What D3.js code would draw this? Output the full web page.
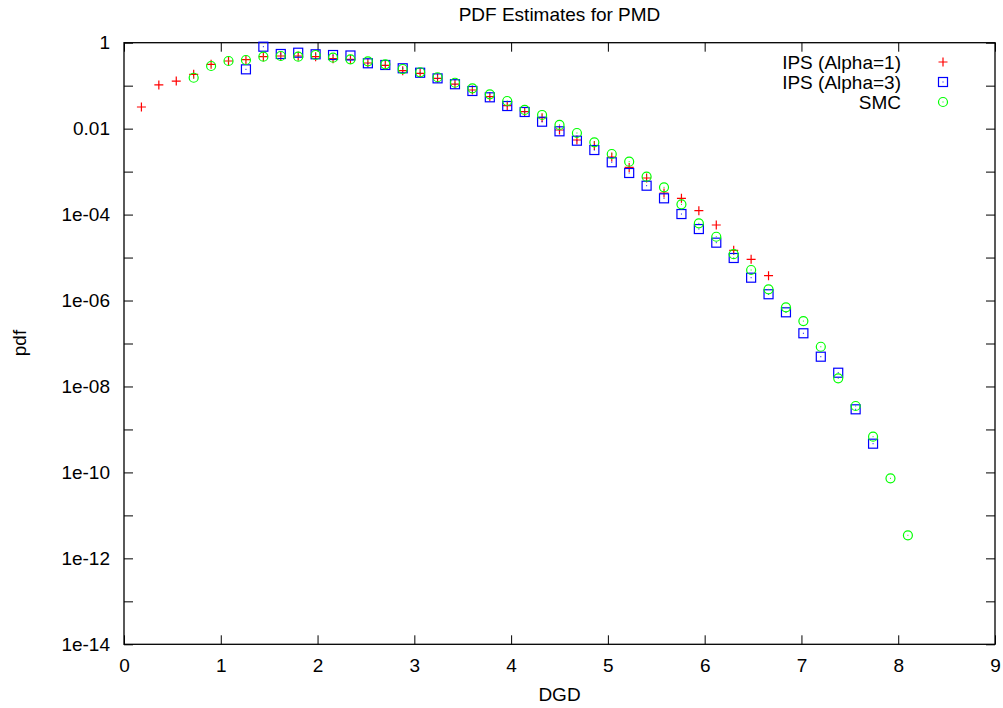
<!DOCTYPE html>
<html>
<head>
<meta charset="utf-8">
<script src="https://cdn.jsdelivr.net/npm/d3@7"></script>
<style>
  body { margin: 0; background: #fff; }
  svg text { font-family: "Liberation Sans", Arial, Helvetica, sans-serif; fill: #000; }
</style>
</head>
<body>
<svg id="chart" width="1003" height="708"></svg>
<script>
// DGD bin centres
var dgd = [0.18, 0.36, 0.54, 0.72, 0.90, 1.08, 1.26, 1.44, 1.62, 1.80, 1.98, 2.16, 2.34, 2.52, 2.70,
	2.88, 3.06, 3.24, 3.42, 3.60, 3.78, 3.96, 4.14, 4.32, 4.50, 4.68, 4.86, 5.04, 5.22, 5.40,
	5.58, 5.76, 5.94, 6.12, 6.30, 6.48, 6.66, 6.84, 7.02, 7.20, 7.38, 7.56, 7.74, 7.92, 8.10];

// IPS (Alpha=1), bins 1..37
var ips1 = [3.19e-2, 1.04e-1, 1.28e-1, 1.84e-1, 3.14e-1, 3.75e-1, 4.02e-1, 4.72e-1, 4.90e-1, 4.90e-1,
	4.72e-1, 4.24e-1, 4.11e-1, 3.37e-1, 2.98e-1, 2.23e-1, 1.94e-1, 1.48e-1, 1.09e-1, 7.93e-2,
	5.54e-2, 3.42e-2, 2.48e-2, 1.80e-2, 9.3e-3, 5.44e-3, 4.05e-3, 2.19e-3, 1.25e-3, 7.1e-4,
	3.18e-4, 2.39e-4, 1.23e-4, 5.72e-5, 1.47e-5, 9.1e-6, 3.79e-6,
	null, null, null, null, null, null, null, null];

// IPS (Alpha=3), bins 7..43
var ips3 = [null, null, null, null, null, null,
	2.40e-1, 8.07e-1, 5.46e-1, 5.85e-1, 5.37e-1, 5.17e-1, 5.04e-1, 3.32e-1, 3.03e-1, 2.54e-1,
	2.00e-1, 1.48e-1, 1.08e-1, 7.52e-2, 5.36e-2, 3.36e-2, 2.44e-2, 1.45e-2, 8.67e-3, 5.24e-3,
	3.18e-3, 1.65e-3, 9.29e-4, 4.70e-4, 2.39e-4, 1.03e-4, 4.61e-5, 2.22e-5, 9.77e-6, 3.40e-6,
	1.40e-6, 5.32e-7, 1.73e-7, 4.93e-8, 2.09e-8, 2.94e-9, 4.66e-10,
	null, null];

// SMC, bins 4..45
var smc = [null, null, null,
	1.53e-1, 2.87e-1, 3.75e-1, 3.96e-1, 4.72e-1, 4.90e-1, 4.72e-1, 5.17e-1, 4.48e-1, 4.11e-1,
	3.69e-1, 3.14e-1, 2.44e-1, 2.05e-1, 1.57e-1, 1.17e-1, 8.69e-2, 6.30e-2, 4.40e-2, 2.72e-2,
	2.08e-2, 1.22e-2, 7.92e-3, 4.81e-3, 2.57e-3, 1.70e-3, 7.61e-4, 4.31e-4, 1.73e-4, 6.27e-5,
	3.05e-5, 1.20e-5, 5.13e-6, 1.82e-6, 6.93e-7, 3.33e-7, 8.40e-8, 1.55e-8, 3.51e-9, 6.78e-10,
	7.29e-11, 3.44e-12];

var xTicks = [0, 1, 2, 3, 4, 5, 6, 7, 8, 9];
var yTicks = [1, 1e-1, 1e-2, 1e-3, 1e-4, 1e-5, 1e-6, 1e-7, 1e-8, 1e-9, 1e-10, 1e-11, 1e-12, 1e-13, 1e-14];
var yLabels = {"1": "1", "0.01": "0.01", "0.0001": "1e-04", "0.000001": "1e-06", "1e-8": "1e-08",
	"1e-10": "1e-10", "1e-12": "1e-12", "1e-14": "1e-14"};

var series = [
	{name: "IPS (Alpha=1)", values: ips1, color: "#ff0000", shape: "plus"},
	{name: "IPS (Alpha=3)", values: ips3, color: "#0000ff", shape: "square"},
	{name: "SMC", values: smc, color: "#00ff00", shape: "circle"}
];

var svg = d3.select("#chart"),
	margin = {top: 42.7, left: 124, bottom: 63.7, right: 8},
	width = +svg.attr("width"),
	height = +svg.attr("height");

var x = d3.scaleLinear()
	.domain([0, 9])
	.range([margin.left, width - margin.right]);

var y = d3.scaleLog()
	.domain([1e-14, 1])
	.range([height - margin.bottom, margin.top]);

var fontSize = "19px";

// axes, ticks point inward
var xAxis = svg.append("g")
	.attr("transform", `translate(0,${y.range()[0]})`)
	.call(d3.axisBottom(x).tickValues(xTicks).tickSize(-9).tickPadding(14).tickFormat(d3.format("d")));

svg.append("g")
	.attr("transform", `translate(0,${y.range()[1]})`)
	.call(d3.axisTop(x).tickValues(xTicks).tickSize(-9).tickFormat(""));

var yAxis = svg.append("g")
	.attr("transform", `translate(${x.range()[0]},0)`)
	.call(d3.axisLeft(y).tickValues(yTicks).tickSize(-9).tickPadding(14)
		.tickFormat(d => yLabels[String(d)] || ""));

svg.append("g")
	.attr("transform", `translate(${x.range()[1]},0)`)
	.call(d3.axisRight(y).tickValues(yTicks).tickSize(-9).tickFormat(""));

svg.selectAll(".domain").remove();
svg.selectAll(".tick line").attr("stroke", "#000").attr("stroke-width", 1);
svg.selectAll(".tick text").style("font-size", fontSize).attr("fill", "#000");

// frame
svg.append("rect")
	.attr("x", x.range()[0])
	.attr("y", y.range()[1])
	.attr("width", x.range()[1] - x.range()[0])
	.attr("height", y.range()[0] - y.range()[1])
	.attr("fill", "none")
	.attr("stroke", "#000")
	.attr("stroke-width", 1.3);

// titles
svg.append("text")
	.attr("x", (x.range()[0] + x.range()[1]) / 2)
	.attr("y", 21)
	.attr("text-anchor", "middle")
	.style("font-size", fontSize)
	.text("PDF Estimates for PMD");

svg.append("text")
	.attr("x", (x.range()[0] + x.range()[1]) / 2)
	.attr("y", 701)
	.attr("text-anchor", "middle")
	.style("font-size", fontSize)
	.text("DGD");

svg.append("text")
	.attr("transform", "translate(26,343) rotate(-90)")
	.attr("text-anchor", "middle")
	.style("font-size", fontSize)
	.text("pdf");

function drawMarker(g, shape, color) {
	var s = 4.5;
	if (shape == "plus") {
		g.append("path")
			.attr("d", `M${-s},0H${s}M0,${-s}V${s}`)
			.attr("stroke", color).attr("stroke-width", 1.2).attr("fill", "none");
	} else if (shape == "square") {
		g.append("rect")
			.attr("x", -s).attr("y", -s).attr("width", 2 * s).attr("height", 2 * s)
			.attr("stroke", color).attr("stroke-width", 1.2).attr("fill", "none");
		g.append("rect")
			.attr("x", -0.5).attr("y", -0.5).attr("width", 1).attr("height", 1)
			.attr("fill", color);
	} else {
		g.append("circle")
			.attr("r", s)
			.attr("stroke", color).attr("stroke-width", 1.2).attr("fill", "none");
		g.append("rect")
			.attr("x", -0.5).attr("y", -0.5).attr("width", 1).attr("height", 1)
			.attr("fill", color);
	}
}

series.forEach(function(sr) {
	var pts = dgd.map((d, i) => ({x: d, v: sr.values[i]})).filter(p => p.v != null);
	var layer = svg.append("g").attr("class", "layer");
	layer.selectAll("g.pt")
		.data(pts)
		.enter().append("g")
		.attr("class", "pt")
		.attr("transform", p => `translate(${x(p.x)},${y(p.v)})`)
		.each(function() { drawMarker(d3.select(this), sr.shape, sr.color); });
});

// legend
var legend = svg.append("g").attr("class", "legend");
series.forEach(function(sr, i) {
	var ly = 62 + i * 20;
	legend.append("text")
		.attr("x", 901)
		.attr("y", ly)
		.attr("dy", "0.35em")
		.attr("text-anchor", "end")
		.style("font-size", fontSize)
		.text(sr.name);
	var g = legend.append("g").attr("transform", `translate(943,${ly})`);
	drawMarker(g, sr.shape, sr.color);
});
</script>
</body>
</html>
